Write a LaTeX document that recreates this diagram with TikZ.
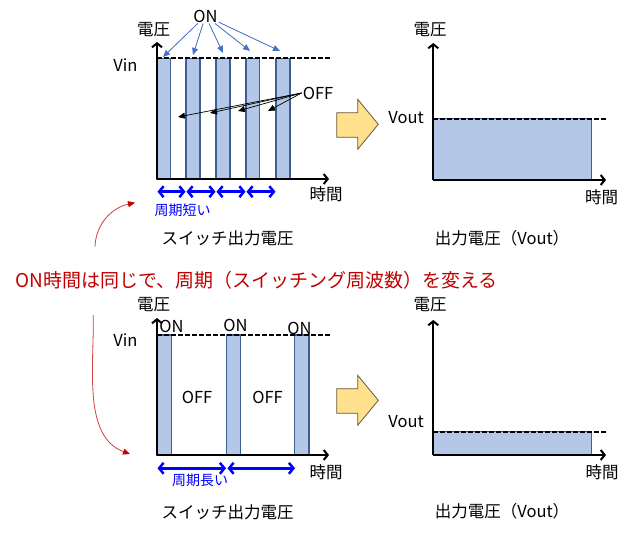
\documentclass[tikz,border=0pt]{standalone}
\usepackage{fontspec}
\setmainfont{Noto Sans CJK JP}
\usetikzlibrary{arrows.meta}
\definecolor{barfill}{RGB}{180,199,231}
\definecolor{barline}{RGB}{60,95,150}
\definecolor{onblue}{RGB}{68,114,196}
\definecolor{periodblue}{RGB}{0,0,255}
\definecolor{notered}{RGB}{192,0,0}
\definecolor{arrowfill}{RGB}{255,224,140}
\definecolor{arrowline}{RGB}{100,90,60}
\tikzset{
  axis/.style={line width=2pt,-{Straight Barb[length=4pt,width=10pt]}},
  bar/.style={fill=barfill,draw=barline,line width=1.3pt},
  level/.style={line width=1.9pt,dash pattern=on 4.5pt off 2.5pt},
  lbl/.style={inner sep=1pt,font=\fontsize{16.5}{18}\selectfont},
  small/.style={inner sep=1pt,text=periodblue,font=\fontsize{14}{16}\selectfont},
  onarrow/.style={draw=onblue,line width=0.8pt,-{Triangle[length=7pt,width=6pt]},fill=onblue},
  offarrow/.style={line width=0.7pt,-{Triangle[length=7pt,width=6pt]}},
  period/.style={draw=periodblue,line width=2.5pt,{Straight Barb[length=4.5pt,width=11pt]}-{Straight Barb[length=4.5pt,width=11pt]}},
  curvearrow/.style={draw=notered!75,line width=0.8pt,-{Triangle[length=7pt,width=6pt,fill=notered,color=notered]}},
  bigarrow/.style={fill=arrowfill,draw=arrowline,line width=0.8pt}
}
\begin{document}
\begin{tikzpicture}[x=1pt,y=-1pt]
\useasboundingbox (0,0) rectangle (630,535);
% upper switch waveform
\draw [bar] (157,58.3) rectangle (170.5,179);
\draw [bar] (186,58.3) rectangle (200,179);
\draw [bar] (216,58.3) rectangle (230,179);
\draw [bar] (246,58.3) rectangle (259.5,179);
\draw [bar] (276,58.3) rectangle (290,179);
\draw [level] (157,58.3) -- (330,58.3);
\draw [axis] (157,179) -- (157,42);
\draw [axis] (157,179) -- (329,179);
\node [lbl] (v1) at (153.5,30) {電圧};
\node [lbl] (vin1) at (125.5,65) {Vin};
\node [lbl] (t1) at (326,194) {時間};
\node [lbl] (on) at (205.5,16) {ON};
\node [lbl] (off) at (318,93) {OFF};
\coordinate (a1) at (163,57);
\coordinate (a2) at (193,55);
\coordinate (a3) at (223,53);
\coordinate (a4) at (250,51);
\coordinate (a5) at (280,51);
\draw [onarrow] (on) -- (a1);
\draw [onarrow] (on) -- (a2);
\draw [onarrow] (on) -- (a3);
\draw [onarrow] (on) -- (a4);
\draw [onarrow] (on) -- (a5);
\coordinate (b1) at (178,117);
\coordinate (b2) at (210,113);
\coordinate (b3) at (238,111);
\coordinate (b4) at (268,111);
\draw [offarrow] (off.west) -- (b1);
\draw [offarrow] (off.west) -- (b2);
\draw [offarrow] (off.west) -- (b3);
\draw [offarrow] (off.west) -- (b4);
\draw [period] (157.5,191.7) -- (185.5,191.7);
\draw [period] (186.5,191.7) -- (215.5,191.7);
\draw [period] (216.5,191.7) -- (245.5,191.7);
\draw [period] (246.5,191.7) -- (275.5,191.7);
\node [small] (short) at (182.5,210) {周期短い};
\node [lbl] (cap1) at (227.5,238) {スイッチ出力電圧};
% upper output
\draw [bigarrow] (336.7,112.7) -- (357.7,112.7) -- (357.7,99.3) -- (378.3,124.3) -- (357.7,149.3) -- (357.7,137.3) -- (336.7,137.3) -- cycle;
\draw [bar] (433.3,118.8) rectangle (591.7,180);
\draw [level] (433.3,118.8) -- (606,118.8);
\draw [axis] (433.3,180) -- (433.3,43);
\draw [axis] (433.3,180) -- (606,180);
\node [lbl] (v2) at (430,30) {電圧};
\node [lbl] (vout1) at (406,118) {Vout};
\node [lbl] (t2) at (601.5,197) {時間};
\node [lbl] (cap2) at (502,238) {出力電圧（Vout）};
% note
\node [inner sep=1pt,text=notered,font=\fontsize{19}{22}\selectfont] (note) at (256.5,280) {ON時間は同じで、周期（スイッチング周波数）を変える};
\coordinate (c1) at (95,246.7);
\coordinate (c2) at (135,202.7);
\coordinate (c3) at (93.3,315);
\coordinate (c4) at (130,454);
\draw [curvearrow] (c1) to[out=88,in=192] (c2);
\draw [curvearrow] (c3) to[out=-89,in=160,looseness=0.9] (c4);
% lower switch waveform
\draw [bar] (157,335) rectangle (171.5,455);
\draw [bar] (226.7,335) rectangle (240.7,455);
\draw [bar] (294.3,335) rectangle (309,455);
\draw [level] (157,335) -- (330,335);
\draw [axis] (157,455) -- (157,318);
\draw [axis] (157,455) -- (329,455);
\node [lbl] (v3) at (153.5,305) {電圧};
\node [lbl] (vin2) at (125.5,340) {Vin};
\node [lbl] (t3) at (326,472) {時間};
\node [lbl] (on1) at (171.5,326.7) {ON};
\node [lbl] (on2) at (235.5,325) {ON};
\node [lbl] (on3) at (299.5,328) {ON};
\node [lbl] (off1) at (197,397) {OFF};
\node [lbl] (off2) at (267.5,397) {OFF};
\draw [period] (157.5,468.3) -- (226,468.3);
\draw [period] (227.5,468.3) -- (295,468.3);
\node [small] (long) at (200,480) {周期長い};
\node [lbl] (cap3) at (227.5,512) {スイッチ出力電圧};
% lower output
\draw [bigarrow] (336.7,388.7) -- (357.7,388.7) -- (357.7,375.3) -- (378.3,400.3) -- (357.7,425.3) -- (357.7,413.3) -- (336.7,413.3) -- cycle;
\draw [bar] (433.3,431.7) rectangle (591.7,455);
\draw [level] (433.3,431.7) -- (606,431.7);
\draw [axis] (433.3,455) -- (433.3,320);
\draw [axis] (433.3,455) -- (606,455);
\node [lbl] (v4) at (430,305) {電圧};
\node [lbl] (vout2) at (406,421.7) {Vout};
\node [lbl] (t4) at (602,472) {時間};
\node [lbl] (cap4) at (502,511) {出力電圧（Vout）};
\end{tikzpicture}
\end{document}
